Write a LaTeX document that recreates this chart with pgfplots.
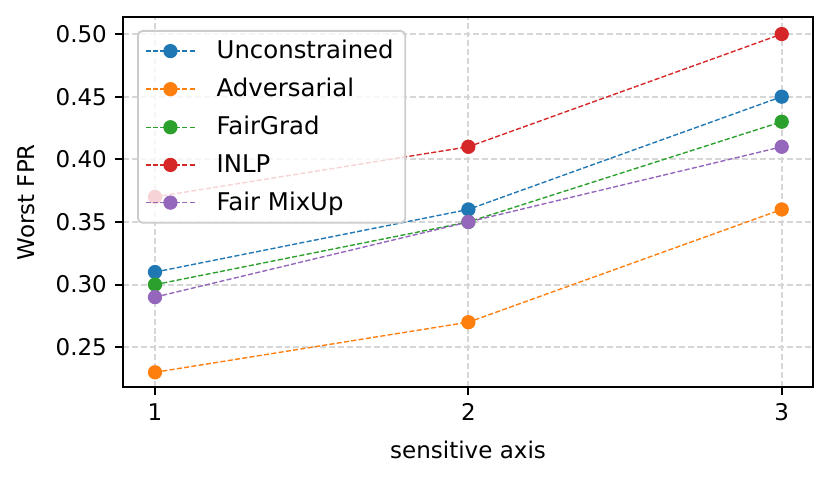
\documentclass[border=0pt]{standalone}
\usepackage{pgfplots}
\pgfplotsset{compat=1.18}
\usepackage{fontspec}
\setmainfont{DejaVu Sans}
\definecolor{c1}{HTML}{1F77B4}
\definecolor{c2}{HTML}{FF7F0E}
\definecolor{c3}{HTML}{2CA02C}
\definecolor{c4}{HTML}{D62728}
\definecolor{c5}{HTML}{9467BD}
\begin{document}
\begin{tikzpicture}
\useasboundingbox (-53.5pt,-40.9pt) rectangle (307.8pt,168.4pt);
\begin{axis}[
  scale only axis,
  width=300pt, height=161pt,
  xmin=0.898, xmax=3.1,
  ymin=0.218, ymax=0.5136,
  xtick={1,2,3},
  ytick={0.25,0.30,0.35,0.40,0.45,0.50},
  yticklabel style={/pgf/number format/.cd,fixed,fixed zerofill,precision=2},
  /pgf/number format/assume math mode=true,
  tick align=outside,
  tick pos=left,
  major tick length=3.5pt,
  tick style={black, line width=0.8pt},
  axis line style={line width=0.8pt},
  grid=major,
  major grid style={color=gray!32, line width=0.8pt, dash pattern=on 2.6pt off 1.3pt},
  xlabel={sensitive axis},
  ylabel={Worst FPR},
  x label style={at={(axis description cs:0.5,0)}, anchor=north, yshift=-20pt},
  y label style={at={(axis description cs:-0.140,0.5)}, anchor=center, rotate=0},
  every axis plot/.append style={line width=0.6pt, dash pattern=on 2.2pt off 1pt, mark=*, mark size=2.8pt},
  legend style={at={(axis description cs:0.0203,0.965)}, anchor=north west,
    draw=gray!40, line width=0.8pt, rounded corners=2pt, fill=white, fill opacity=0.8, text opacity=1,
    inner xsep=3pt, inner ysep=2pt, row sep=3pt, font=\fontsize{10.6pt}{12pt}\selectfont,
    /tikz/every odd column/.append style={column sep=7pt}},
  legend cell align=left,
  legend image code/.code={\draw[#1, opacity=1, mark repeat=2, mark phase=2] plot coordinates {(0cm,0cm) (0.38cm,0cm) (0.76cm,0cm)};},
  ticklabel style={font=\fontsize{10pt}{12pt}\selectfont},
  label style={font=\fontsize{10pt}{12pt}\selectfont},
]
\addplot[c1, mark options={solid, fill=c1, draw=c1}] coordinates {(1,0.31) (2,0.36) (3,0.45)};
\addlegendentry{Unconstrained}
\addplot[c2, mark options={solid, fill=c2, draw=c2}] coordinates {(1,0.23) (2,0.27) (3,0.36)};
\addlegendentry{Adversarial}
\addplot[c3, mark options={solid, fill=c3, draw=c3}] coordinates {(1,0.30) (2,0.35) (3,0.43)};
\addlegendentry{FairGrad}
\addplot[c4, mark options={solid, fill=c4, draw=c4}] coordinates {(1,0.37) (2,0.41) (3,0.50)};
\addlegendentry{INLP}
\addplot[c5, mark options={solid, fill=c5, draw=c5}] coordinates {(1,0.29) (2,0.35) (3,0.41)};
\addlegendentry{Fair MixUp}
\end{axis}
\end{tikzpicture}
\end{document}
